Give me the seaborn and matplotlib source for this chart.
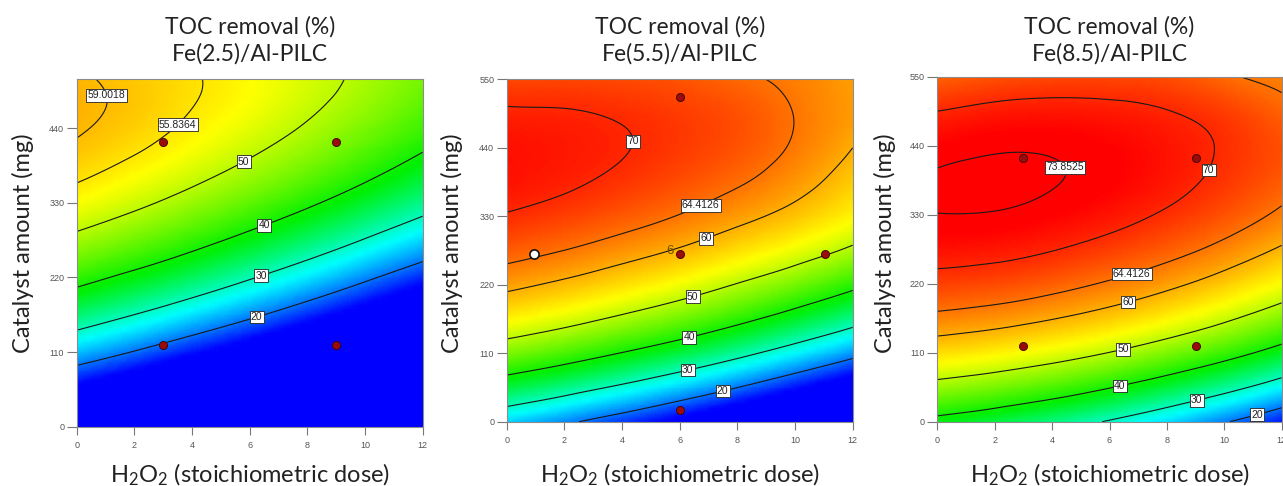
import numpy as np
import pandas as pd
import matplotlib
matplotlib.use("Agg")
import matplotlib.pyplot as plt
import matplotlib.tri as mtri
from matplotlib.colors import LinearSegmentedColormap
import seaborn as sns

# ---------------- data ----------------
h2o2_dose = [0, 2, 4, 6, 8, 10, 12]
catalyst_mg = [0, 110, 220, 330, 385, 440, 495, 550]

# TOC removal (%) surfaces, rows follow catalyst_mg, columns follow h2o2_dose
toc_fe25 = [
    [-0.4, -5.5, -10.9, -16.7, -22.8, -29.2, -36.0],
    [24.0, 19.7, 15.0, 10.1, 4.8, -0.9, -6.9],
    [42.0, 38.5, 34.7, 30.5, 26.0, 21.1, 16.0],
    [53.8, 51.1, 48.0, 44.6, 40.9, 36.8, 32.5],
    [57.3, 55.0, 52.3, 49.3, 46.0, 42.3, 38.3],
    [59.4, 57.5, 55.0, 52.4, 49.5, 46.2, 42.6],
    [59.7, 58.2, 56.2, 54.0, 51.4, 48.6, 45.3],
    [58.5, 57.4, 55.7, 53.9, 51.8, 49.3, 46.5],
]
toc_fe55 = [
    [24.9, 21.1, 16.9, 12.3, 7.2, 1.6, -4.3],
    [46.3, 43.3, 39.8, 36.0, 31.7, 26.9, 21.8],
    [61.2, 59.0, 56.3, 53.3, 49.7, 45.8, 41.4],
    [69.7, 68.3, 66.4, 64.2, 61.4, 58.3, 54.5],
    [71.6, 70.6, 69.1, 67.2, 64.9, 61.8, 57.6],
    [71.8, 71.2, 70.2, 68.7, 66.8, 63.9, 60.0],
    [70.5, 70.3, 69.6, 68.5, 67.0, 64.3, 61.4],
    [67.6, 67.8, 67.5, 66.8, 65.2, 63.5, 61.0],
]
toc_fe85 = [
    [38.3, 36.0, 33.1, 29.5, 25.3, 20.5, 15.1],
    [56.5, 54.9, 52.7, 49.9, 46.4, 42.4, 37.6],
    [68.3, 67.5, 66.0, 63.9, 61.2, 57.8, 53.8],
    [73.8, 73.7, 72.9, 71.5, 69.5, 66.9, 63.6],
    [74.1, 74.4, 74.0, 73.0, 71.3, 69.0, 66.2],
    [72.9, 73.5, 73.5, 72.8, 71.5, 69.6, 67.1],
    [70.0, 71.0, 71.3, 71.0, 70.1, 68.4, 65.6],
    [65.6, 66.9, 67.6, 67.7, 67.1, 65.0, 63.4],
]

levels_fe25 = [20, 30, 40, 50, 55.8364, 59.0018]
levels_fe55 = [20, 30, 40, 50, 60, 64.4126, 70]
levels_fe85 = [20, 30, 40, 50, 60, 64.4126, 70, 73.8525]

panel_titles = ["Fe(2.5)/Al-PILC", "Fe(5.5)/Al-PILC", "Fe(8.5)/Al-PILC"]
title_line1 = "TOC removal (%)"
x_label = r"H$_2$O$_2$ (stoichiometric dose)"
y_label = "Catalyst amount (mg)"
x_ticks = [0, 2, 4, 6, 8, 10, 12]
y_ticks = [0, 110, 220, 330, 440, 550]

# design points
pts_fe25_x = [3, 9, 3, 9]
pts_fe25_y = [120, 120, 420, 420]
pts_fe55_x = [6, 11.04, 6, 6]
pts_fe55_y = [270, 270, 18, 522]
pts_fe55_white_x = [0.96]
pts_fe55_white_y = [270]
pts_fe85_x = [3, 9, 3, 9]
pts_fe85_y = [120, 120, 420, 420]
center_replicates = "6"

# ---------------- style ----------------
sns.set_theme(style="white")
plt.rcParams["font.family"] = ["Lato", "DejaVu Sans"]
plt.rcParams["mathtext.fontset"] = "custom"
plt.rcParams["mathtext.rm"] = "Lato"
plt.rcParams["mathtext.it"] = "Lato:italic"
plt.rcParams["mathtext.bf"] = "Lato:bold"

cmap = LinearSegmentedColormap.from_list(
    "de",
    [(0.0, "#0000ff"), (0.22, "#00ffff"), (0.424, "#00f000"),
     (0.678, "#ffff00"), (0.84, "#ff8000"), (1.0, "#ff0000")],
)
VMIN, VMAX = 14, 73

W, H = 1283, 486
fig = plt.figure(figsize=(W / 100, H / 100), dpi=100)

# pixel boxes: left, right(x=12), top, bottom
boxes = [
    (76.7, 422.7, 79.3, 426.7),
    (506.7, 852.7, 79.3, 421.7),
    (937.3, 1281.7, 76.7, 421.7),
]
ylims = [(0, 512), (0, 550), (0, 550)]
surfaces = [toc_fe25, toc_fe55, toc_fe85]
levels_all = [levels_fe25, levels_fe55, levels_fe85]
label_pos = [
    [(6.24, 162), (6.42, 221), (6.53, 292.5), (5.9, 381), (3.76, 432), (1.3, 492)],
    [(7.46, 54.6), (6.24, 89.5), (6.3, 142), (6.42, 206), (6.9, 296), (6.73, 347), (5.05, 451)],
    [(11.07, 23), (8.98, 43.7), (6.31, 66.5), (6.42, 125), (6.6, 200), (6.71, 244.5),
     (9.25, 407), (4.51, 407)],
]
ylabel_x = [23, 451.7, 885]

X, Y = np.meshgrid(np.array(h2o2_dose, float), np.array(catalyst_mg, float))

for i in range(3):
    l, r, t, b = boxes[i]
    ax = fig.add_axes([l / W, 1 - b / H, (r - l) / W, (b - t) / H])
    Z = np.array(surfaces[i], float)
    tri = mtri.Triangulation(X.ravel(), Y.ravel())
    refiner = mtri.UniformTriRefiner(tri)
    tri_r, z_r = refiner.refine_field(Z.ravel(), subdiv=4)
    ax.tripcolor(tri_r, z_r, shading="gouraud", cmap=cmap, vmin=VMIN, vmax=VMAX,
                 rasterized=True)
    cs = ax.tricontour(tri_r, z_r, levels=levels_all[i], colors="#1a1a1a",
                       linewidths=0.8)
    labels = ax.clabel(cs, manual=label_pos[i], inline=False, fmt="%g",
                       fontsize=7.5)
    for tx in labels:
        tx.set_rotation(0)
        tx.set_family(["Liberation Sans", "DejaVu Sans"])
        tx.set_color("#222222")
        tx.set_bbox(dict(boxstyle="square,pad=0.12", fc="white", ec="#222222", lw=0.6))
        tx.set_zorder(6)

    if i == 0:
        df = pd.DataFrame({"x": pts_fe25_x, "y": pts_fe25_y})
    elif i == 1:
        df = pd.DataFrame({"x": pts_fe55_x, "y": pts_fe55_y})
    else:
        df = pd.DataFrame({"x": pts_fe85_x, "y": pts_fe85_y})
    sns.scatterplot(data=df, x="x", y="y", ax=ax, s=34, color="#9a0b0b",
                    edgecolor="#3a0000", linewidth=0.6, zorder=7, legend=False)
    if i == 1:
        dfw = pd.DataFrame({"x": pts_fe55_white_x, "y": pts_fe55_white_y})
        sns.scatterplot(data=dfw, x="x", y="y", ax=ax, s=44, color="white",
                        edgecolor="#111111", linewidth=1.2, zorder=7, legend=False)
        ax.text(pts_fe55_x[0] - 0.2, pts_fe55_y[0] + 4, center_replicates,
                ha="right", va="center", fontsize=9.5, color="#6b4e00",
                family=["Liberation Sans", "DejaVu Sans"], zorder=8)

    ax.set_xlim(0, 12)
    ax.set_ylim(*ylims[i])
    ax.set_xticks(x_ticks)
    ax.set_yticks([v for v in y_ticks if v <= ylims[i][1]])
    ax.set_xlabel("")
    ax.set_ylabel("")
    ax.tick_params(axis="both", which="major", direction="out", width=0.8,
                   color="#777777", labelsize=6.5, labelcolor="#555555",
                   bottom=True, left=True, top=False, right=False)
    ax.tick_params(axis="x", length=6, pad=4)
    ax.tick_params(axis="y", length=7, pad=2)
    for lab in ax.get_xticklabels() + ax.get_yticklabels():
        lab.set_family(["Liberation Sans", "DejaVu Sans"])
    for sp in ax.spines.values():
        sp.set_color("#8c8c8c")
        sp.set_linewidth(0.8)

    cx = (l + r) / 2 / W
    fig.text(cx, 1 - 27 / H, title_line1, ha="center", va="center", fontsize=16.5,
             color="#222222")
    fig.text(cx, 1 - 54 / H, panel_titles[i], ha="center", va="center",
             fontsize=16.5, color="#222222")
    fig.text(cx, 1 - 482 / H, x_label, ha="center", va="baseline", fontsize=17,
             color="#222222")
    fig.text(ylabel_x[i] / W, 1 - 243 / H, y_label, ha="center", va="center",
             rotation=90, fontsize=17, color="#222222")

fig.savefig("out.png", dpi=100)
